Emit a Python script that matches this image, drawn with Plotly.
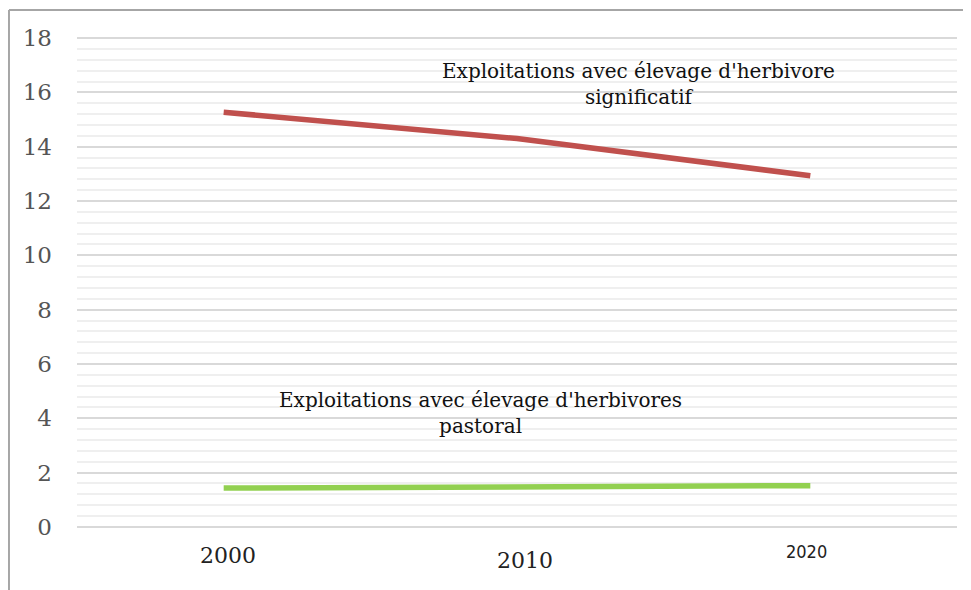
import plotly.graph_objects as go

years = ["2000", "2010", "2020"]
significatif = [15.27, 14.3, 12.93]
pastoral = [1.43, 1.45, 1.52]
y_ticks = [0, 2, 4, 6, 8, 10, 12, 14, 16, 18]
label_sig = "Exploitations avec élevage d'herbivore<br>significatif"
label_past = "Exploitations avec élevage d'herbivores<br>pastoral"

SERIF = "DejaVu Serif"

fig = go.Figure()
fig.add_trace(go.Scatter(x=years, y=significatif, mode="lines",
                         line=dict(color="#C0504D", width=5.5), showlegend=False))
fig.add_trace(go.Scatter(x=years, y=pastoral, mode="lines",
                         line=dict(color="#92D050", width=5.5), showlegend=False))

# x tick labels drawn as annotations (offsets/sizes differ per label in the original)
x_label_sizes = [22, 22, 18]
x_label_fonts = [SERIF, SERIF, "DejaVu Sans Condensed, DejaVu Sans"]
x_label_shift = [-27, -32, -23]
x_label_xshift = [4, 8, -4]
for i, (yr, fs, ff, sh, xs) in enumerate(zip(years, x_label_sizes, x_label_fonts,
                                             x_label_shift, x_label_xshift)):
    fig.add_annotation(x=i, y=0, xref="x", yref="paper", yanchor="middle",
                       text=yr, showarrow=False, yshift=sh, xshift=xs,
                       font=dict(family=ff, size=fs, color="#222222"))

fig.add_annotation(x=0.6375, y=0.904, xref="paper", yref="paper", text=label_sig,
                   showarrow=False, font=dict(family=SERIF, size=20, color="#111111"),
                   align="center", xanchor="center", yanchor="middle")
fig.add_annotation(x=0.458, y=0.234, xref="paper", yref="paper", text=label_past,
                   showarrow=False, font=dict(family=SERIF, size=20, color="#111111"),
                   align="center", xanchor="center", yanchor="middle")

# outer frame (top and left edges visible)
fig.add_shape(type="line", xref="paper", yref="paper", x0=-0.0773, x1=1.1,
              y0=1.055, y1=1.055, line=dict(color="#a6a6a6", width=2))
fig.add_shape(type="line", xref="paper", yref="paper", x0=-0.0773, x1=-0.0773,
              y0=1.055, y1=-0.2, line=dict(color="#a6a6a6", width=2))

# page body has an 8px margin, so margins are offset accordingly
fig.update_layout(
    width=971, height=590,
    margin=dict(l=69, r=22, t=29, b=70),
    plot_bgcolor="white", paper_bgcolor="white",
    xaxis=dict(type="category", showgrid=False, showticklabels=False,
               zeroline=False, showline=False, range=[-0.5, 2.5]),
    yaxis=dict(range=[-0.04, 18.04], tickvals=y_ticks, showgrid=True,
               gridcolor="#d9d9d9", gridwidth=1.5, zeroline=False,
               ticks="", ticklabelstandoff=24,
               tickfont=dict(family=SERIF, size=23, color="#555555"),
               minor=dict(dtick=0.4, tick0=0, showgrid=True,
                          gridcolor="#efefef", gridwidth=1.5)),
)

fig.write_html("out.html")
